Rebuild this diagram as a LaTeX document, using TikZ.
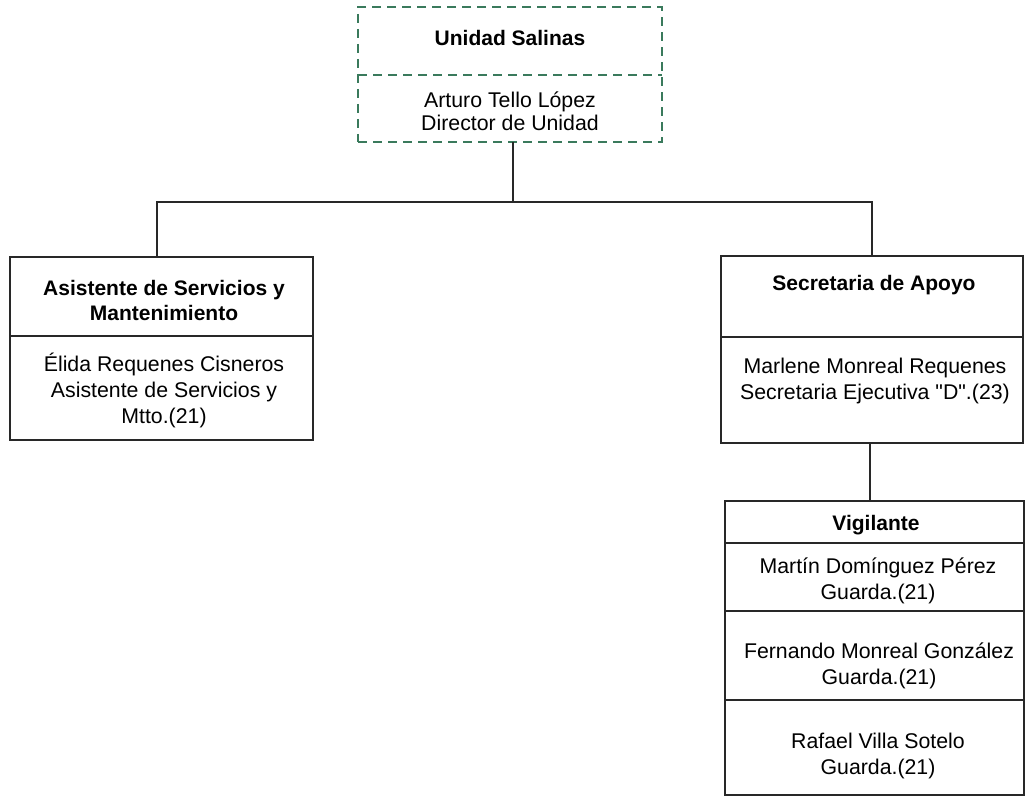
\documentclass[tikz,border=0pt]{standalone}
\usepackage{fontspec}
\setmainfont{Liberation Sans}
\definecolor{dgreen}{RGB}{58,122,92}
\definecolor{lineclr}{RGB}{40,40,40}
\begin{document}
\begin{tikzpicture}[x=1pt,y=-1pt,
  frame/.style={draw=lineclr, line width=1.7pt, inner sep=0pt, outer sep=0pt, anchor=north west},
  dframe/.style={draw=dgreen, line width=1.6pt, dash pattern=on 9pt off 6pt, inner sep=0pt, outer sep=0pt, anchor=north west},
  txt/.style={align=center, inner sep=0pt, font=\fontsize{21.3}{26}\selectfont},
  ttl/.style={align=center, inner sep=0pt, font=\fontsize{21}{25}\selectfont\bfseries},
  conn/.style={draw=lineclr, line width=1.7pt}]
\useasboundingbox (0,0) rectangle (1026,797);
% top box
\node[dframe, minimum width=304pt, minimum height=135pt] (top) at (358,7) {};
\draw[draw=dgreen, line width=1.6pt, dash pattern=on 9pt off 6pt] (top.north west) ++(0,68) -- ++(304,0);
\node[ttl] (topT) at (510,38) {Unidad Salinas};
\node[txt, font=\fontsize{21.3}{23}\selectfont] (topC) at (510,111.5) {Arturo Tello López\\Director de Unidad};
% left box
\node[frame, minimum width=303pt, minimum height=79pt] (asistT) at (10,257) {};
\node[frame, minimum width=303pt, minimum height=104pt] (asistB) at (10,336) {};
\node[ttl] (asistTt) at (164,300) {Asistente de Servicios y\\Mantenimiento};
\node[txt] (asistC) at (164,390) {Élida Requenes Cisneros\\Asistente de Servicios y\\Mtto.(21)};
% right box
\node[frame, minimum width=302pt, minimum height=81pt] (secT) at (721,256) {};
\node[frame, minimum width=302pt, minimum height=106pt] (secB) at (721,337) {};
\node[ttl] (secTt) at (874,285) {Secretaria de Apoyo};
\node[txt] (secC) at (875,381) {Marlene Monreal Requenes\\Secretaria Ejecutiva \textquotedbl D\textquotedbl.(23)};
% vigilante box
\node[frame, minimum width=299pt, minimum height=42pt] (vigT) at (725,501) {};
\node[frame, minimum width=299pt, minimum height=68pt] (vig1) at (725,543) {};
\node[frame, minimum width=299pt, minimum height=89pt] (vig2) at (725,611) {};
\node[frame, minimum width=299pt, minimum height=95pt] (vig3) at (725,700) {};
\node[ttl] (vigTt) at (876,525) {Vigilante};
\node[txt] (v1) at (878,581) {Martín Domínguez Pérez\\Guarda.(21)};
\node[txt] (v2) at (879,665.5) {Fernando Monreal González\\Guarda.(21)};
\node[txt] (v3) at (878,755.5) {Rafael Villa Sotelo\\Guarda.(21)};
% connectors
\coordinate (hub) at (513,202);
\draw[conn] (top.south -| hub) -- (hub);
\draw[conn] (asistT.north -| 157,0) |- (hub) -| (secT.north);
\draw[conn] (secB.south -| 870,0) -- (vigT.north -| 870,0);
\end{tikzpicture}
\end{document}
